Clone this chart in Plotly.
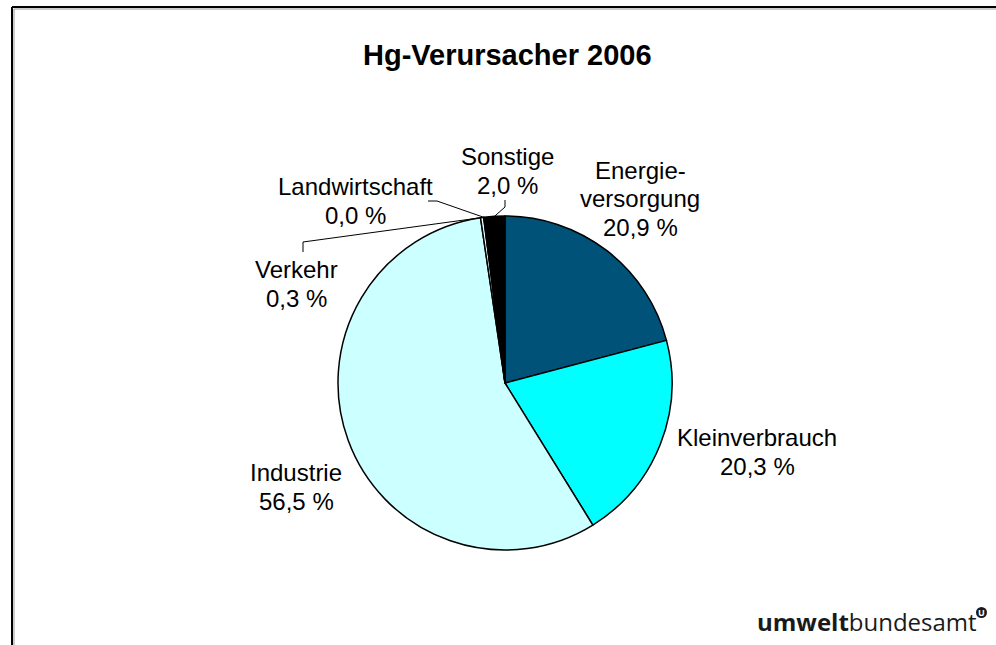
import math
import plotly.graph_objects as go

# ---- data ----
categories = ["Energie-<br>versorgung", "Kleinverbrauch", "Industrie", "Verkehr", "Landwirtschaft", "Sonstige"]
values = [20.9, 20.3, 56.5, 0.3, 0.04, 2.0]
value_labels = ["20,9 %", "20,3 %", "56,5 %", "0,3 %", "0,0 %", "2,0 %"]
colors = ["#005278", "#00FFFF", "#CCFFFF", "#E6FFFF", "#CC0000", "#000000"]
title_text = "Hg-Verursacher 2006"

# ---- layout (pixels in a 996x645 canvas) ----
W, H = 996, 645
CX, CY, R = 505, 383, 167
LINE_H = 28.5
# label text centres
label_pos = [(640, 199), (757, 452), (296, 487), (296, 284), (355, 201), (507, 171)]
# leader line elbows for small slices
leaders = {3: [(303, 242), (303, 252)], 4: [(437, 201), (428, 201)], 5: [(505, 207), (505, 200)]}


def px(x, y):
    return x / W, 1 - y / H


fig = go.Figure(go.Pie(
    labels=[c.replace("<br>", "") for c in categories],
    values=values,
    sort=False,
    direction="clockwise",
    rotation=0,
    marker=dict(colors=colors, line=dict(color="black", width=1.5)),
    textinfo="none",
    hoverinfo="label+percent",
    domain=dict(x=[(CX - R) / W, (CX + R) / W], y=[1 - (CY + R) / H, 1 - (CY - R) / H]),
    showlegend=False,
))

annotations = []
font_lbl = dict(family="Liberation Sans, Arial, sans-serif", size=24, color="black")
for cat, vl, (lx, ly) in zip(categories, value_labels, label_pos):
    lines = cat.split("<br>") + [vl]
    n = len(lines)
    for k, t in enumerate(lines):
        yy = ly + (k - (n - 1) / 2) * LINE_H
        x, y = px(lx, yy)
        annotations.append(dict(x=x, y=y, xref="paper", yref="paper", text=t,
                                showarrow=False, font=font_lbl, align="center",
                                xanchor="center", yanchor="middle"))

# title
tx, ty = px(507, 55)
annotations.append(dict(x=tx, y=ty, xref="paper", yref="paper", text=f"<b>{title_text}</b>",
                        showarrow=False, font=dict(family="Liberation Sans, Arial, sans-serif", size=29, color="black"),
                        xanchor="center", yanchor="middle"))

# logo text
lx, ly = px(979, 621)
annotations.append(dict(x=lx, y=ly, xref="paper", yref="paper",
                        text="<b>umwelt</b>bundesamt", showarrow=False,
                        font=dict(family="Open Sans, Noto Sans, sans-serif", size=24, color="#1a1a1a"),
                        xanchor="right", yanchor="middle"))
ux, uy = px(981.5, 612.5)
annotations.append(dict(x=ux, y=uy, xref="paper", yref="paper",
                        text="<b>U</b>", showarrow=False,
                        font=dict(family="Open Sans, sans-serif", size=9, color="white"),
                        xanchor="center", yanchor="middle"))

shapes = []
# leader lines from slice mid-angle at the pie edge to the label
total = sum(values)
cum = 0.0
for i, v in enumerate(values):
    mid = (cum + v / 2) / total * 2 * math.pi
    cum += v
    if i in leaders:
        ex, ey = CX + R * math.sin(mid), CY - R * math.cos(mid)
        pts = [(ex, ey)] + leaders[i]
        path = "M " + " L ".join(f"{px(a, b)[0]},{px(a, b)[1]}" for a, b in pts)
        shapes.append(dict(type="path", path=path, xref="paper", yref="paper",
                           line=dict(color="black", width=1)))

# logo circle
c0 = px(976, 607)
c1 = px(987, 618)
shapes.append(dict(type="circle", xref="paper", yref="paper", x0=c0[0], y0=c1[1], x1=c1[0], y1=c0[1],
                   fillcolor="#1a1a1a", line=dict(width=0)))

# frame (top and left edges, with light shadow)
shapes += [
    dict(type="line", xref="paper", yref="paper", x0=px(12, 7)[0], y0=px(12, 7)[1], x1=1, y1=px(996, 7)[1],
         line=dict(color="black", width=2)),
    dict(type="line", xref="paper", yref="paper", x0=px(12, 7)[0], y0=px(12, 7)[1], x1=px(12, 645)[0], y1=0,
         line=dict(color="black", width=2)),
    dict(type="line", xref="paper", yref="paper", x0=px(14, 9)[0], y0=px(14, 9)[1], x1=1, y1=px(996, 9)[1],
         line=dict(color="#999999", width=1)),
    dict(type="line", xref="paper", yref="paper", x0=px(14, 9)[0], y0=px(14, 9)[1], x1=px(14, 645)[0], y1=0,
         line=dict(color="#999999", width=1)),
]

fig.update_layout(
    width=W, height=H,
    margin=dict(l=0, r=0, t=0, b=0),
    paper_bgcolor="white", plot_bgcolor="white",
    annotations=annotations, shapes=shapes,
)

fig.write_html("out.html",
               config={"displayModeBar": False},
               post_script="document.body.style.margin='0px';document.body.style.overflow='hidden';")
